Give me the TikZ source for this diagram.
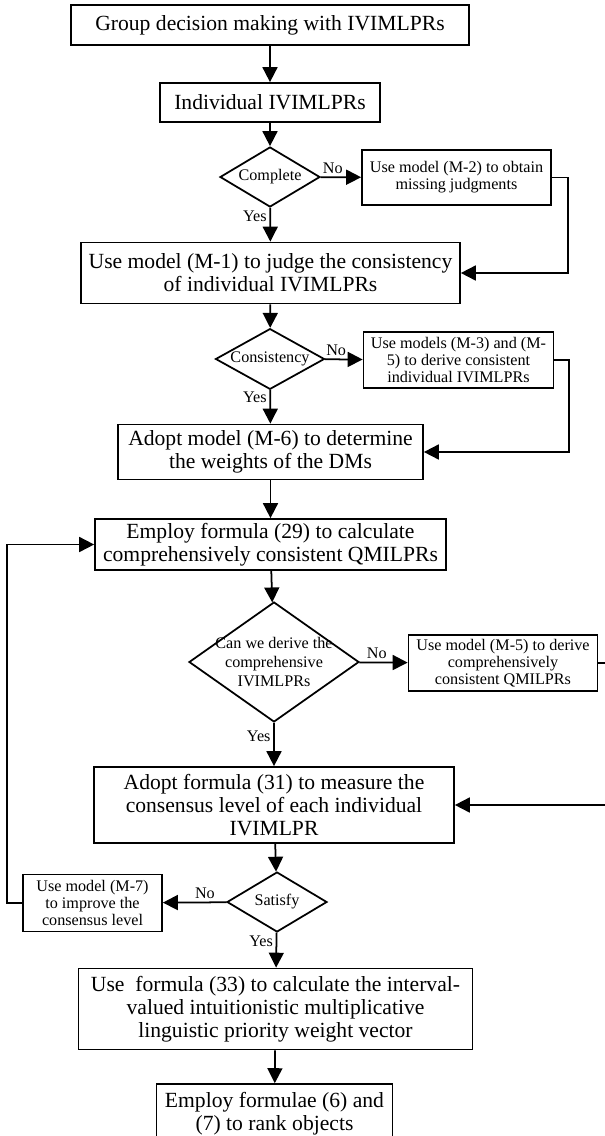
\documentclass[tikz,border=0pt]{standalone}
\usepackage{fontspec}
\setmainfont{Liberation Serif}
\usetikzlibrary{shapes.geometric,arrows.meta,positioning,calc}
\newcommand{\bigtext}{\fontsize{12.3}{13.2}\selectfont}
\newcommand{\smalltext}{\fontsize{9.2}{9.8}\selectfont}
\tikzstyle{block} = [draw, rectangle, align=center, font=\bigtext, inner sep=1pt]
\tikzstyle{smallblock} = [block, font=\smalltext]
\tikzstyle{decision} = [draw, diamond, align=center, font=\smalltext, inner sep=0pt, shape aspect=1.7]
\tikzstyle{lbl} = [font=\smalltext, inner sep=1.5pt]

\begin{document}
\begin{tikzpicture}[x=0.02cm, y=-0.02cm, line width=1pt, >={Triangle[length=8.5pt,width=8.5pt]}]
    \useasboundingbox (0,0) rectangle (605,1136);
    \clip (0,0) rectangle (605,1136);
    % Main column
    \node [block, minimum width=7.96cm, minimum height=0.8cm] (group) at (270,25) {Group decision making with IVIMLPRs};
    \node [block, minimum width=4.4cm, minimum height=0.78cm] (indiv) at (270,102.5) {Individual IVIMLPRs};
    \node [decision, minimum width=2cm, minimum height=1.2cm] (complete) at (270,177) {Complete};
    \node [smallblock, minimum width=3.78cm, minimum height=1.1cm] (fill) at (456.5,177.5) {Use model (M-2) to obtain\\missing judgments};
    \node [block, minimum width=7.58cm, minimum height=1.22cm] (judge) at (270.5,273) {Use model (M-1) to judge the consistency\\of individual IVIMLPRs};
    \node [decision, minimum width=2.18cm, minimum height=1.18cm] (consist) at (270,359) {Consistency};
    \node [smallblock, minimum width=3.8cm, minimum height=1.12cm] (repair) at (458.5,360) {Use models (M-3) and (M-\\5) to derive consistent\\individual IVIMLPRs};
    \node [block, minimum width=6.1cm, minimum height=1.1cm] (weights) at (270.5,452) {Adopt model (M-6) to determine\\the weights of the DMs};
    \node [block, minimum width=7.02cm, minimum height=1.02cm] (qmilpr) at (270.5,544.5) {Employ formula (29) to calculate\\comprehensively consistent QMILPRs};
    \node [decision, minimum width=3.4cm, minimum height=2.4cm, shape aspect=1.417, inner sep=-2.5pt, font=\fontsize{9.2}{10.6}\selectfont] (derive) at (274,662) {Can we derive the\\comprehensive\\IVIMLPRs};
    \node [smallblock, minimum width=3.78cm, minimum height=1.12cm] (derivebox) at (503,663) {Use model (M-5) to derive\\comprehensively\\consistent QMILPRs};
    \node [block, minimum width=7.2cm, minimum height=1.52cm] (measure) at (274,805) {Adopt formula (31) to measure the\\consensus level of each individual\\IVIMLPR};
    \node [decision, minimum width=2cm, minimum height=1.2cm] (satisfy) at (277,902) {Satisfy};
    \node [smallblock, minimum width=2.78cm, minimum height=1.14cm] (improve) at (92.5,903) {Use model (M-7)\\to improve the\\consensus level};
    \node [block, minimum width=7.88cm, minimum height=1.62cm] (vector) at (275.5,1009) {Use\ \ formula (33) to calculate the interval-\\valued intuitionistic multiplicative\\linguistic priority weight vector};
    \node [block, minimum width=4.72cm, minimum height=1.2cm] (rank) at (274.5,1114) {Employ formulae (6) and\\(7) to rank objects};

    % Connections
    \draw [->] (group) -- (indiv);
    \draw [->] (indiv) -- (complete);
    \draw [->] (complete) -- node [lbl, above, pos=0.3] {No} (fill);
    \draw [->] (complete) -- node [lbl, left, pos=0.25] {Yes} (judge);
    \draw [->] (fill.east) -- ++(16,0) |- (judge.east);
    \draw [->] (judge) -- (consist);
    \draw [->] (consist) -- node [lbl, above, pos=0.3] {No} (repair);
    \draw [->] (consist) -- node [lbl, left, pos=0.2] {Yes} (weights);
    \draw [->] (repair.east) -- ++(15,0) |- (weights.east);
    \draw [->] (weights) -- (qmilpr);
    \draw [->] (qmilpr) -- (derive);
    \draw [->] (derive) -- node [lbl, above, pos=0.36] {No} (derivebox);
    \draw [->] (derive) -- node [lbl, left, pos=0.3] {Yes} (measure);
    \draw [->] (derivebox.east) -- ++(30,0) |- (measure.east);
    \draw [->] (measure) -- (satisfy);
    \draw [->] (satisfy) -- node [lbl, above, pos=0.34] {No} (improve);
    \draw [->] (satisfy) -- node [lbl, left, pos=0.25] {Yes} (vector);
    \draw [->] (improve.west) -- ++(-15,0) |- (qmilpr.west);
    \draw [->] (vector) -- (rank);
\end{tikzpicture}
\end{document}
